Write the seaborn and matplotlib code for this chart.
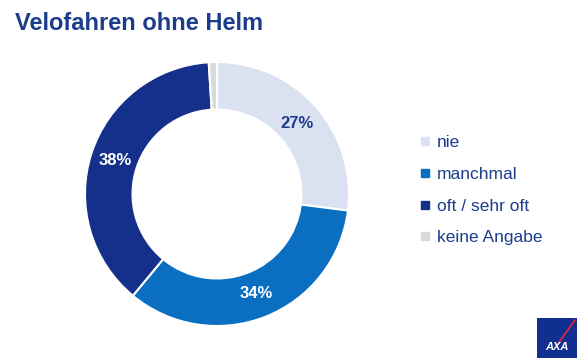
import matplotlib.pyplot as plt
import numpy as np
import seaborn as sns
from matplotlib.lines import Line2D
from matplotlib.patches import Rectangle

categories = ["nie", "manchmal", "oft / sehr oft", "keine Angabe"]
values = [27, 34, 38, 1]
labels = ["27%", "34%", "38%", ""]
label_colors = ["#1c3c8c", "white", "white", "white"]
colors = ["#dae1f1", "#0b6fc1", "#15308a", "#d9d9d9"]
navy = "#1c3c8c"

sns.set_theme(style="white")
plt.rcParams['font.family'] = ['Liberation Sans', 'DejaVu Sans']

fig = plt.figure(figsize=(5.82, 3.64), dpi=100)
# donut centre ~ (217, 193) px, radius ~132 px
ax = fig.add_axes([85 / 582, (364 - 326) / 364, 264 / 582, 264 / 364])

wedges, _ = ax.pie(values, colors=colors, startangle=90, counterclock=False,
                   wedgeprops=dict(width=0.36, edgecolor="white", linewidth=1.5))
for w, lab, lc in zip(wedges, labels, label_colors):
    if not lab:
        continue
    ang = np.deg2rad((w.theta1 + w.theta2) / 2)
    r = 0.81
    ax.text(r * np.cos(ang), r * np.sin(ang), lab, ha="center", va="center",
            color=lc, fontsize=12, fontweight="bold")
ax.set_xlim(-1, 1)
ax.set_ylim(-1, 1)
ax.set_aspect("equal")

fig.text(0.026, 0.935, "Velofahren ohne Helm", color=navy, fontsize=17,
         fontweight="bold", ha="left", va="center")

handles = [Line2D([], [], marker="s", linestyle="", markersize=5.5,
                  markerfacecolor=c, markeredgecolor=c) for c in colors]
fig.legend(handles, categories, loc="center left", bbox_to_anchor=(0.692, 0.477),
           frameon=False, fontsize=12.5, labelcolor=navy, handletextpad=0.25,
           handlelength=0.8, labelspacing=0.95)

# logo
lax = fig.add_axes([537 / 582, 6 / 364, 40 / 582, 40 / 364])
lax.set_xlim(0, 1)
lax.set_ylim(0, 1)
lax.add_patch(Rectangle((0, 0), 1, 1, color="#102f8f"))
lax.plot([0.45, 0.95], [0.25, 0.95], color="#e8283c", lw=1.2)
lax.text(0.5, 0.27, "AXA", color="white", fontsize=8, fontweight="bold",
         ha="center", va="center", fontstyle="italic")
lax.axis("off")

fig.savefig("out.png", dpi=100)
